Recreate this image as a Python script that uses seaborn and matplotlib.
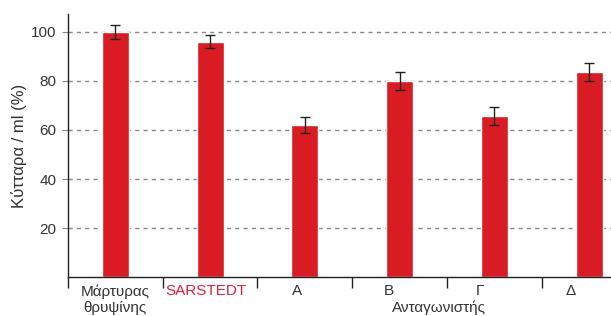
import matplotlib
matplotlib.use("Agg")
import matplotlib.pyplot as plt
import matplotlib.transforms as mtransforms
import seaborn as sns
import pandas as pd

# Data
categories = ["Μάρτυρας\nθρυψίνης", "SARSTEDT", "A", "B", "Γ", "Δ"]
values = [100, 96, 62, 80, 65.7, 83.7]
errors = [2.8, 2.5, 3.3, 3.7, 3.6, 3.7]
yticks = [20, 40, 60, 80, 100]
group_label = "Ανταγωνιστής"

bar_color = "#d91c24"
text_color = "#333333"

sns.set_style("white")
plt.rcParams["font.family"] = ["Liberation Sans", "DejaVu Sans"]

df = pd.DataFrame({"cat": categories, "val": values, "err": errors})

fig = plt.figure(figsize=(6.11, 3.16), dpi=100)
ax = fig.add_axes([0.111, 0.123, 0.889, 0.833])

sns.barplot(data=df, x="cat", y="val", color=bar_color, saturation=1,
            width=0.285, ax=ax, errorbar=None)
ax.errorbar(range(len(df)), df["val"], yerr=df["err"], fmt="none",
            ecolor="#222222", elinewidth=1, capsize=3.5, capthick=1)

ax.set_xlim(-0.5, 5.23)
ax.set_ylim(0, 107.3)
ax.set_yticks(yticks)
ax.set_yticklabels([str(t) for t in yticks], fontsize=11, color=text_color)
ax.yaxis.grid(True, linestyle=(0, (3, 3)), color="#888888", linewidth=1)
ax.set_axisbelow(True)
ax.tick_params(axis="y", left=True, length=4, color="#888888", pad=4)

# category labels centred on bars, boundary ticks between them
ax.set_xticks(range(len(categories)))
ax.set_xticklabels(categories, fontsize=11, color=text_color)
ax.set_xticks([i - 0.5 for i in range(len(categories))], minor=True)
ax.tick_params(axis="x", which="major", bottom=True, length=0, pad=5)
ax.tick_params(axis="x", which="minor", bottom=True, length=8,
               color="#222222", width=1)
for i, lab in enumerate(ax.get_xticklabels()):
    shift = mtransforms.ScaledTranslation(-0.037 * i, 0, fig.dpi_scale_trans)
    lab.set_transform(lab.get_transform() + shift)
ax.get_xticklabels()[1].set_color("#e0203a")

ax.set_xlabel("")
ax.set_ylabel("Κύτταρα / ml (%)", fontsize=12, color=text_color, labelpad=3)
ax.text(3.41, -0.088, group_label, transform=ax.get_xaxis_transform(),
        ha="center", va="top", fontsize=11, color=text_color)

for s in ["top", "right"]:
    ax.spines[s].set_visible(False)
for s in ["left", "bottom"]:
    ax.spines[s].set_color("#222222")
    ax.spines[s].set_linewidth(1)

fig.savefig("out.png", dpi=100)
